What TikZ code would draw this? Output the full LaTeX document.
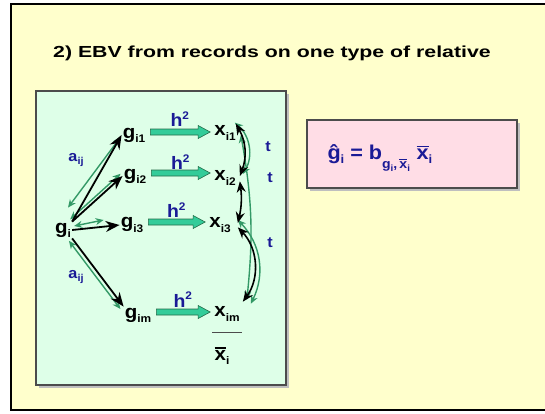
\documentclass[tikz,border=0pt]{standalone}
\usepackage{fontspec}
\setmainfont{Liberation Sans}[FakeStretch=1.08]
\newfontfamily\titlefont{Liberation Sans}[FakeStretch=1.33]
\usetikzlibrary{arrows.meta, positioning, calc}

\definecolor{slidebg}{RGB}{255,255,204}
\definecolor{panelgreen}{RGB}{222,255,232}
\definecolor{panelpink}{RGB}{255,221,230}
\definecolor{navy}{RGB}{26,26,150}
\definecolor{seagrn}{RGB}{51,153,102}
\definecolor{tealfill}{RGB}{51,204,153}

% sub- and superscripts in the slide font
\newcommand\sbs[2][11]{\raisebox{-0.22em}{\fontsize{#1}{#1}\selectfont #2}}
\newcommand\sps[2][11]{\raisebox{0.42em}{\fontsize{#1}{#1}\selectfont #2}}
\newcommand\lowsbs[2][13]{\raisebox{-0.45em}{\fontsize{#1}{#1}\selectfont #2}}
\newcommand\xbar{\vbox{\hrule height 1.3pt\kern1.8pt\hbox{x}}}
% block arrow g -> x
\newcommand\hsq[2]{%
  \filldraw[hsq] let \p1=([xshift=4pt,yshift=3pt]#1.east),
                     \p2=([xshift=-3pt,yshift=3pt]#2.west) in
    (\x1,\y1+3pt) -- (\x2-12pt,\y1+3pt) -- (\x2-12pt,\y1+6.5pt)
    -- (\x2,\y1) -- (\x2-12pt,\y1-6.5pt) -- (\x2-12pt,\y1-3pt)
    -- (\x1,\y1-3pt) -- cycle;}

\begin{document}
\begin{tikzpicture}[
    x=1pt, y=-1pt,
    >=Stealth,
    lbl/.style={inner sep=1pt, font=\fontsize{19}{21}\selectfont\bfseries},
    coef/.style={inner sep=0pt, text=navy,
                 font=\fontsize{15}{17}\selectfont\bfseries},
    tie/.style={line width=1.8pt, -{Stealth[length=14pt, width=11pt]}},
    link/.style={line width=1.6pt,
                 {Stealth[length=11pt, width=9pt]}-{Stealth[length=11pt, width=9pt]}},
    rel/.style={seagrn, line width=1.4pt,
                {Stealth[length=8pt, width=7pt]}-{Stealth[length=8pt, width=7pt]}},
    hsq/.style={fill=tealfill, draw=seagrn!70!black, line width=0.6pt},
    panel/.style={draw=gray!60!black, line width=1.2pt}
  ]
  \useasboundingbox (0,0) rectangle (545,413);
  \clip (0,0) rectangle (545,413);
  \fill[white] (0,0) rectangle (545,413);
  \draw[line width=2pt, fill=slidebg] (11,4) rectangle (560,410);

  \node[anchor=west, inner sep=0pt, font=\titlefont\fontsize{16}{18}\selectfont\bfseries]
    (title) at (53,53) {2) EBV from records on one type of relative};

  % panels
  \fill[gray!50] (39,94) rectangle (289,388);
  \draw[panel, fill=panelgreen] (36,91) rectangle (286,385);
  \fill[gray!50] (310,123) rectangle (520,191);
  \draw[panel, fill=panelpink] (307,120) rectangle (517,188);

  % genotypes and records
  \node[lbl] (gi)  at (63,230)  {g\sbs{i}};
  \node[lbl] (gi1) at (134,135) {g\sbs{i1}};
  \node[lbl] (gi2) at (135,176) {g\sbs{i2}};
  \node[lbl] (gi3) at (132,225) {g\sbs{i3}};
  \node[lbl] (gim) at (138,315) {g\sbs{im}};
  \node[lbl] (xi1) at (225,133) {x\sbs{i1}};
  \node[lbl] (xi2) at (225,178) {x\sbs{i2}};
  \node[lbl] (xi3) at (220,225) {x\sbs{i3}};
  \node[lbl] (xim) at (227,314) {x\sbs{im}};
  \node[lbl] (xmean) at (222,356) {\xbar\sbs{i}};
  \draw[gray!60!black, line width=1pt] (212,332) -- (242,332);

  % heritability arrows
  \foreach \r in {1,2,3,m} {
    \hsq{gi\r}{xi\r}
    \node[coef, font=\fontsize{18}{20}\selectfont\bfseries, above=7pt]
      (h\r) at ($(gi\r.east)!0.5!(xi\r.west)$) {h\sps{2}};
  }

  % relationships
  \draw[rel] ([shift={(5,-14)}]gi.north) -- ([shift={(-1,2)}]gi1.west);
  \draw[rel] ($(gi.north east)!3pt!90:(gi2.west)$)
    -- ($(gi2.west)!3pt!-90:(gi.north east)$);
  \draw[rel] ([shift={(2,-4)}]gi.east) -- ([shift={(-16,-5)}]gi3.west);
  \draw[rel] ($(gi.south east)!4pt!-90:(gim.north west)$)
    -- ($(gim.north west)!4pt!90:(gi.south east)$);
  \draw[tie] (gi.north east) -- (gi1.west);
  \draw[tie] (gi.north east) -- (gi2.west);
  \draw[tie] (gi.east) -- (gi3.west);
  \draw[tie] (gi.south east) -- (gim.north west);
  \node[coef] (a1) at (76,160) {a\sbs[10]{ij}};
  \node[coef] (a2) at (76,277) {a\sbs[10]{ij}};

  % records are correlated
  \draw[rel] ([shift={(-2,-2)}]xi1.north east) to[bend left=40]
    ([shift={(6,-4)}]xi2.east);
  \draw[rel] ([shift={(4,2)}]xi1.east) to[bend left=8]
    ([shift={(6,-6)}]xim.north east);
  \draw[rel] ([shift={(6,-5)}]xi3.east) to[bend left=35]
    ([shift={(10,-2)}]xim.north east);
  \draw[link] ([shift={(-1,-1)}]xi1.north east) to[bend left=25]
    ([shift={(3,-2)}]xi2.east);
  \draw[link] ([shift={(3,-5)}]xi2.south east) to[bend left=10]
    ([shift={(6,-2)}]xi3.east);
  \draw[link] ([shift={(6,-6)}]xi3.south east) to[bend left=40]
    ([shift={(2,-4)}]xim.north east);
  \node[coef] (t1) at (268,147) {t};
  \node[coef] (t2) at (270,178) {t};
  \node[coef] (t3) at (270,243) {t};

  % index
  \node[anchor=west, text=navy, font=\fontsize{20}{22}\selectfont\bfseries]
    (ebv) at (324,158)
    {\^{g}\sbs[12]{i} = b\lowsbs{g\sbs[9]{i},\,\xbar\sbs[9]{i}}\,\,\xbar\sbs[12]{i}};
\end{tikzpicture}
\end{document}
